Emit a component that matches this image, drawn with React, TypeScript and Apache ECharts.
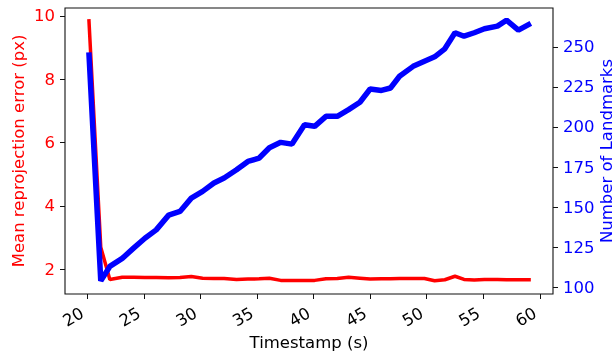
import React, { useEffect, useRef } from "react";
import * as echarts from "echarts";

const timestamps = [
  20.15, 21.2, 22.0, 23.1, 24.1, 25.1, 26.1, 27.2, 28.2, 29.2, 30.2, 31.2, 32.1, 33.2,
  34.2, 35.2, 36.1, 37.1, 38.1, 39.2, 40.1, 41.1, 42.1, 43.1, 44.1, 45.0, 46.0, 46.8,
  47.6, 48.8, 49.8, 50.7, 51.6, 52.5, 53.3, 54.2, 55.1, 56.25, 57.05, 58.1, 59.2,
];
const reprojError = [
  9.9, 2.7, 1.68, 1.75, 1.75, 1.74, 1.74, 1.73, 1.74, 1.77, 1.72, 1.71, 1.71, 1.68,
  1.69, 1.7, 1.72, 1.65, 1.65, 1.65, 1.65, 1.7, 1.71, 1.75, 1.72, 1.69, 1.7, 1.7,
  1.71, 1.71, 1.71, 1.64, 1.67, 1.78, 1.68, 1.66, 1.68, 1.68, 1.67, 1.67, 1.67,
];
const landmarks = [
  246.5, 104, 113, 118, 124.4, 130.6, 135.8, 145, 147.3, 155.6, 159.8, 165, 168.2, 173.3,
  178.5, 180.6, 187, 190.4, 189.3, 201.4, 200.4, 206.6, 206.6, 210.8, 215.4, 223.7, 222.8, 224.3,
  231.6, 237.8, 241, 243.75, 248.75, 258.75, 256.6, 258.75, 261.25, 262.9, 266.6, 260.4, 264.6,
];
const xTicks = [20, 25, 30, 35, 40, 45, 50, 55, 60];
const leftTicks = [2, 4, 6, 8, 10];
const rightTicks = [100, 125, 150, 175, 200, 225, 250];

const FONT = "DejaVu Sans";
const FS = 16.5;

export default function App() {
  const ref = useRef<HTMLDivElement>(null);
  useEffect(() => {
    if (!ref.current) return;
    const chart = echarts.init(ref.current, null, { renderer: "svg" });
    chart.setOption({
      animation: false,
      grid: {
        left: 65,
        right: 63,
        top: 8,
        bottom: 59,
        show: true,
        borderColor: "#111",
        borderWidth: 1.1,
        backgroundColor: "transparent",
        outerBoundsMode: "none",
      },
      xAxis: {
        type: "value",
        min: 18.04,
        max: 61.16,
        name: "Timestamp (s)",
        nameLocation: "middle",
        nameGap: 40,
        nameMoveOverlap: false,
        nameTextStyle: { color: "#000", fontSize: FS, fontFamily: FONT },
        axisLine: { show: false },
        splitLine: { show: false },
        axisTick: { show: true, length: 5, customValues: xTicks, lineStyle: { color: "#111" } },
        axisLabel: {
          customValues: xTicks,
          rotate: 30,
          margin: 15,
          padding: [0, 5.5, 0, 0],
          color: "#000",
          fontSize: FS,
          fontFamily: FONT,
        },
      },
      yAxis: [
        {
          type: "value",
          position: "left",
          min: 1.22,
          max: 10.25,
          name: "Mean reprojection error (px)",
          nameLocation: "middle",
          nameGap: 38,
          nameMoveOverlap: false,
          nameRotate: 90,
          nameTextStyle: { color: "#ff0000", fontSize: FS, fontFamily: FONT },
          axisLine: { show: false },
          splitLine: { show: false },
          axisTick: { show: true, length: 5, customValues: leftTicks, lineStyle: { color: "#111" } },
          axisLabel: { customValues: leftTicks, margin: 10, color: "#ff0000", fontSize: FS, fontFamily: FONT },
        },
        {
          type: "value",
          position: "right",
          min: 95.8,
          max: 274.2,
          name: "Number of Landmarks",
          nameLocation: "middle",
          nameGap: 45,
          nameMoveOverlap: false,
          nameRotate: 90,
          nameTextStyle: { color: "#0000ff", fontSize: FS, fontFamily: FONT },
          axisLine: { show: false },
          splitLine: { show: false },
          axisTick: { show: true, length: 5, customValues: rightTicks, lineStyle: { color: "#111" } },
          axisLabel: { customValues: rightTicks, margin: 10, color: "#0000ff", fontSize: FS, fontFamily: FONT },
        },
      ],
      series: [
        {
          type: "line",
          yAxisIndex: 0,
          data: timestamps.map((t, i) => [t, reprojError[i]]),
          showSymbol: false,
          symbol: "none",
          lineStyle: { color: "#ff0000", width: 3.5 },
          z: 2,
        },
        {
          type: "line",
          yAxisIndex: 1,
          data: timestamps.map((t, i) => [t, landmarks[i]]),
          showSymbol: false,
          symbol: "none",
          lineStyle: { color: "#0000ff", width: 5.5 },
          z: 3,
        },
      ],
    });
    return () => chart.dispose();
  }, []);
  return (
    <div
      ref={ref}
      style={{ position: "fixed", left: 0, top: 0, width: 616, height: 353 }}
    />
  );
}
